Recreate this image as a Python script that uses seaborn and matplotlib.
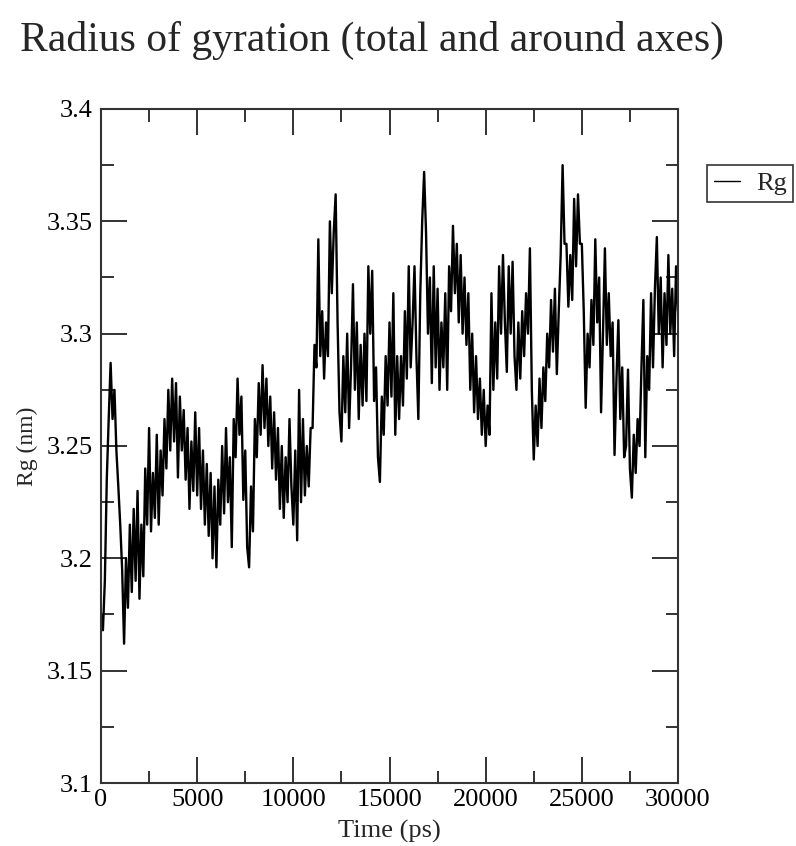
import numpy as np
import pandas as pd
import matplotlib
matplotlib.use("Agg")
import matplotlib.pyplot as plt
from matplotlib.ticker import MultipleLocator
import seaborn as sns

# Radius of gyration, one frame every 100 ps from 0 to 30000 ps
time_ps = list(range(0, 30001, 100))
rg_nm = [
    3.175, 3.168, 3.190, 3.235, 3.262, 3.287, 3.262, 3.275, 3.248, 3.232,
    3.215, 3.195, 3.162, 3.200, 3.178, 3.215, 3.185, 3.222, 3.190, 3.230,
    3.182, 3.215, 3.192, 3.240, 3.215, 3.258, 3.212, 3.238, 3.218, 3.255,
    3.215, 3.248, 3.228, 3.262, 3.240, 3.275, 3.248, 3.280, 3.252, 3.278,
    3.236, 3.272, 3.248, 3.266, 3.235, 3.258, 3.222, 3.252, 3.230, 3.265,
    3.228, 3.258, 3.222, 3.248, 3.215, 3.242, 3.210, 3.238, 3.200, 3.232,
    3.196, 3.235, 3.215, 3.250, 3.220, 3.258, 3.225, 3.245, 3.205, 3.262,
    3.245, 3.280, 3.255, 3.272, 3.226, 3.248, 3.205, 3.196, 3.232, 3.212,
    3.262, 3.245, 3.278, 3.255, 3.286, 3.258, 3.280, 3.250, 3.272, 3.240,
    3.265, 3.235, 3.258, 3.222, 3.250, 3.218, 3.245, 3.225, 3.262, 3.232,
    3.215, 3.248, 3.208, 3.275, 3.225, 3.262, 3.228, 3.250, 3.232, 3.258,
    3.258, 3.295, 3.285, 3.342, 3.290, 3.310, 3.280, 3.305, 3.290, 3.350,
    3.318, 3.345, 3.362, 3.305, 3.265, 3.252, 3.290, 3.265, 3.300, 3.258,
    3.285, 3.322, 3.275, 3.305, 3.262, 3.295, 3.268, 3.300, 3.270, 3.330,
    3.300, 3.328, 3.270, 3.285, 3.245, 3.234, 3.272, 3.255, 3.290, 3.268,
    3.305, 3.272, 3.318, 3.255, 3.290, 3.262, 3.290, 3.268, 3.310, 3.280,
    3.330, 3.285, 3.305, 3.330, 3.290, 3.262, 3.318, 3.350, 3.372, 3.345,
    3.300, 3.325, 3.278, 3.330, 3.285, 3.320, 3.275, 3.305, 3.285, 3.318,
    3.275, 3.330, 3.310, 3.348, 3.318, 3.340, 3.305, 3.335, 3.300, 3.325,
    3.295, 3.318, 3.275, 3.300, 3.265, 3.290, 3.262, 3.280, 3.255, 3.275,
    3.250, 3.268, 3.255, 3.318, 3.275, 3.305, 3.280, 3.330, 3.300, 3.335,
    3.305, 3.283, 3.330, 3.300, 3.332, 3.290, 3.275, 3.305, 3.280, 3.310,
    3.290, 3.318, 3.300, 3.338, 3.275, 3.244, 3.268, 3.250, 3.280, 3.258,
    3.285, 3.270, 3.300, 3.285, 3.315, 3.292, 3.320, 3.282, 3.310, 3.335,
    3.375, 3.340, 3.340, 3.312, 3.335, 3.315, 3.360, 3.330, 3.362, 3.340,
    3.340, 3.310, 3.267, 3.300, 3.285, 3.315, 3.295, 3.342, 3.305, 3.325,
    3.265, 3.300, 3.338, 3.295, 3.318, 3.290, 3.305, 3.246, 3.280, 3.306,
    3.262, 3.285, 3.245, 3.250, 3.284, 3.240, 3.227, 3.255, 3.238, 3.262,
    3.250, 3.285, 3.315, 3.245, 3.290, 3.275, 3.318, 3.285, 3.320, 3.343,
    3.300, 3.325, 3.285, 3.318, 3.295, 3.335, 3.300, 3.320, 3.290, 3.330,
    3.310,
]

title_text = "Radius of gyration (total and around axes)"
x_label = "Time (ps)"
y_label = "Rg (nm)"
series_name = "Rg"

df = pd.DataFrame({"time": time_ps, "rg": rg_nm})

sns.set_style("ticks")
plt.rcParams["font.family"] = ["Liberation Serif", "DejaVu Serif"]

fig = plt.figure(figsize=(7.96, 8.46), dpi=100)
ax = fig.add_axes([101 / 796, 1 - 783 / 846, 577 / 796, 674 / 846])

sns.lineplot(data=df, x="time", y="rg", ax=ax, color="black",
             linewidth=1.7, label=series_name, legend=False)

ax.set_xlim(0, 30000)
ax.set_ylim(3.1, 3.4)
ax.xaxis.set_major_locator(MultipleLocator(5000))
ax.xaxis.set_minor_locator(MultipleLocator(2500))
ax.yaxis.set_major_locator(MultipleLocator(0.05))
ax.yaxis.set_minor_locator(MultipleLocator(0.025))
ax.yaxis.set_major_formatter(
    matplotlib.ticker.FuncFormatter(lambda v, p: f"{v:.3f}".rstrip("0").rstrip(".")))

ax.tick_params(which="both", direction="in", top=True, right=True,
               width=1.3, colors="#222222", labelcolor="black")
ax.tick_params(which="major", length=19, labelsize=19)
ax.tick_params(axis="y", which="major", pad=6)
ax.tick_params(axis="x", which="major", pad=4)
ax.tick_params(which="minor", length=9)
for s in ax.spines.values():
    s.set_linewidth(1.5)
    s.set_color("#333333")

ax.set_xlabel(x_label, fontsize=19, va="top")
ax.xaxis.set_label_coords(0.5, -37 / 674)
ax.set_ylabel(y_label, fontsize=17, va="center")
ax.yaxis.set_label_coords(-74 / 577, 0.5)

fig.text(20 / 796, 1 - 40 / 846, title_text, fontsize=30,
         ha="left", va="center")

leg = ax.legend(loc="upper left", bbox_to_anchor=(707 / 796, 1 - 165 / 846),
                bbox_transform=fig.transFigure, frameon=True, fancybox=False,
                edgecolor="black", handlelength=1.0, handletextpad=0.6,
                borderaxespad=0, borderpad=0.25, fontsize=19)
leg.get_frame().set_linewidth(1.2)
for h in leg.get_lines():
    h.set_linewidth(1.0)

fig.savefig("out.png", dpi=100)
